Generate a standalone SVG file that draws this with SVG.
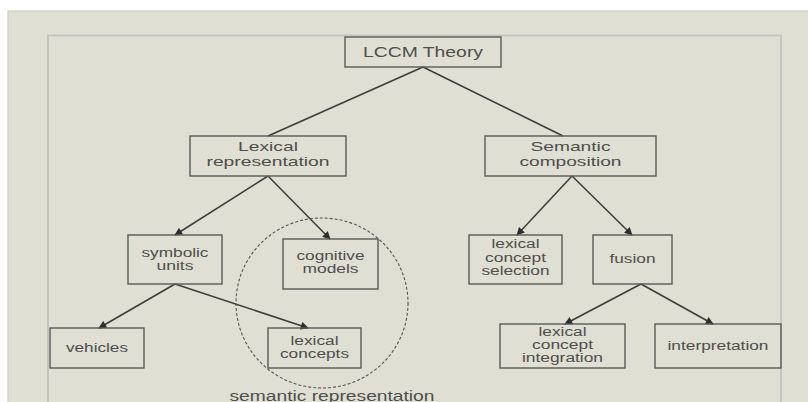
<svg xmlns="http://www.w3.org/2000/svg" width="808" height="402" viewBox="0 0 808 402">
<defs>
<style>
.box{fill:none;stroke:#5a5a58;stroke-width:1.4}
.t{font-family:"Liberation Sans",Arial,sans-serif;fill:#4e4e4c;text-anchor:middle}
.u{font-size:14px}
.u2{font-size:13px}
.l{font-size:12px}
.c{stroke:#3c3c3a;stroke-width:1.5;fill:none}
.a{marker-end:url(#arr)}
</style>
<marker id="arr" viewBox="0 0 10 10" refX="9" refY="5" markerWidth="9" markerHeight="8" markerUnits="userSpaceOnUse" orient="auto">
<path d="M0,0 L10,5 L0,10 z" fill="#2e2e2c"/>
</marker>
</defs>
<rect x="0" y="0" width="808" height="402" fill="#ffffff"/>
<rect x="8" y="11" width="810" height="400" fill="#e0dfd4" stroke="#cbcbc8" stroke-width="1.2"/>
<rect x="48" y="35.5" width="733" height="380" fill="#e0dfd4" stroke="#c5c5c1" stroke-width="2"/>

<g id="connectors">
<line class="c" x1="423" y1="67" x2="268" y2="136"/>
<line class="c" x1="423" y1="67" x2="563" y2="136"/>
<line class="c a" x1="268" y1="176" x2="175" y2="235"/>
<line class="c a" x1="268" y1="176" x2="330" y2="239"/>
<line class="c a" x1="572" y1="176" x2="517" y2="235"/>
<line class="c a" x1="572" y1="176" x2="632" y2="235"/>
<line class="c a" x1="175" y1="284" x2="99" y2="328"/>
<line class="c a" x1="175" y1="284" x2="308" y2="328"/>
<line class="c a" x1="641" y1="284" x2="565" y2="324"/>
<line class="c a" x1="641" y1="284" x2="713" y2="324"/>
</g>

<g id="semantic-representation">
<ellipse cx="322" cy="303" rx="86" ry="85" fill="none" stroke="#555553" stroke-width="1.1" stroke-dasharray="3 2"/>
<text class="t u" x="332" y="400.5" textLength="205" lengthAdjust="spacingAndGlyphs">semantic representation</text>
</g>

<g id="lccm-theory">
<rect class="box" x="345" y="37" width="156" height="30"/>
<text class="t u" x="423" y="57" textLength="120" lengthAdjust="spacingAndGlyphs">LCCM Theory</text>
</g>

<g id="lexical-representation">
<rect class="box" x="190" y="136" width="156" height="40"/>
<text class="t u2" x="268" y="151" textLength="60" lengthAdjust="spacingAndGlyphs">Lexical</text>
<text class="t u2" x="268" y="166" textLength="123" lengthAdjust="spacingAndGlyphs">representation</text>
</g>

<g id="semantic-composition">
<rect class="box" x="485" y="136" width="171" height="40"/>
<text class="t u2" x="570.5" y="151" textLength="80" lengthAdjust="spacingAndGlyphs">Semantic</text>
<text class="t u2" x="570.5" y="166" textLength="102" lengthAdjust="spacingAndGlyphs">composition</text>
</g>

<g id="symbolic-units">
<rect class="box" x="128" y="235" width="94" height="49"/>
<text class="t l" x="175" y="257" textLength="67" lengthAdjust="spacingAndGlyphs">symbolic</text>
<text class="t l" x="175" y="270" textLength="37" lengthAdjust="spacingAndGlyphs">units</text>
</g>

<g id="cognitive-models">
<rect class="box" x="283" y="239" width="95" height="50"/>
<text class="t l" x="330.5" y="260" textLength="68" lengthAdjust="spacingAndGlyphs">cognitive</text>
<text class="t l" x="330.5" y="273" textLength="56" lengthAdjust="spacingAndGlyphs">models</text>
</g>

<g id="vehicles">
<rect class="box" x="50" y="328" width="94" height="40"/>
<text class="t l" x="97" y="352" textLength="62" lengthAdjust="spacingAndGlyphs">vehicles</text>
</g>

<g id="lexical-concepts">
<rect class="box" x="268" y="328" width="93" height="40"/>
<text class="t l" x="314.5" y="345" textLength="48" lengthAdjust="spacingAndGlyphs">lexical</text>
<text class="t l" x="314.5" y="358" textLength="69" lengthAdjust="spacingAndGlyphs">concepts</text>
</g>

<g id="lexical-concept-selection">
<rect class="box" x="469" y="235" width="93" height="49"/>
<text class="t l" x="515.5" y="248" textLength="48" lengthAdjust="spacingAndGlyphs">lexical</text>
<text class="t l" x="515.5" y="262" textLength="61" lengthAdjust="spacingAndGlyphs">concept</text>
<text class="t l" x="515.5" y="275" textLength="68" lengthAdjust="spacingAndGlyphs">selection</text>
</g>

<g id="fusion">
<rect class="box" x="593" y="235" width="79" height="49"/>
<text class="t l" x="632.5" y="263" textLength="46" lengthAdjust="spacingAndGlyphs">fusion</text>
</g>

<g id="lexical-concept-integration">
<rect class="box" x="500" y="324" width="125" height="44"/>
<text class="t l" x="562.5" y="336" textLength="48" lengthAdjust="spacingAndGlyphs">lexical</text>
<text class="t l" x="562.5" y="349" textLength="61" lengthAdjust="spacingAndGlyphs">concept</text>
<text class="t l" x="562.5" y="362" textLength="81" lengthAdjust="spacingAndGlyphs">integration</text>
</g>

<g id="interpretation">
<rect class="box" x="655" y="324" width="126" height="44"/>
<text class="t l" x="718" y="350" textLength="101" lengthAdjust="spacingAndGlyphs">interpretation</text>
</g>
</svg>
